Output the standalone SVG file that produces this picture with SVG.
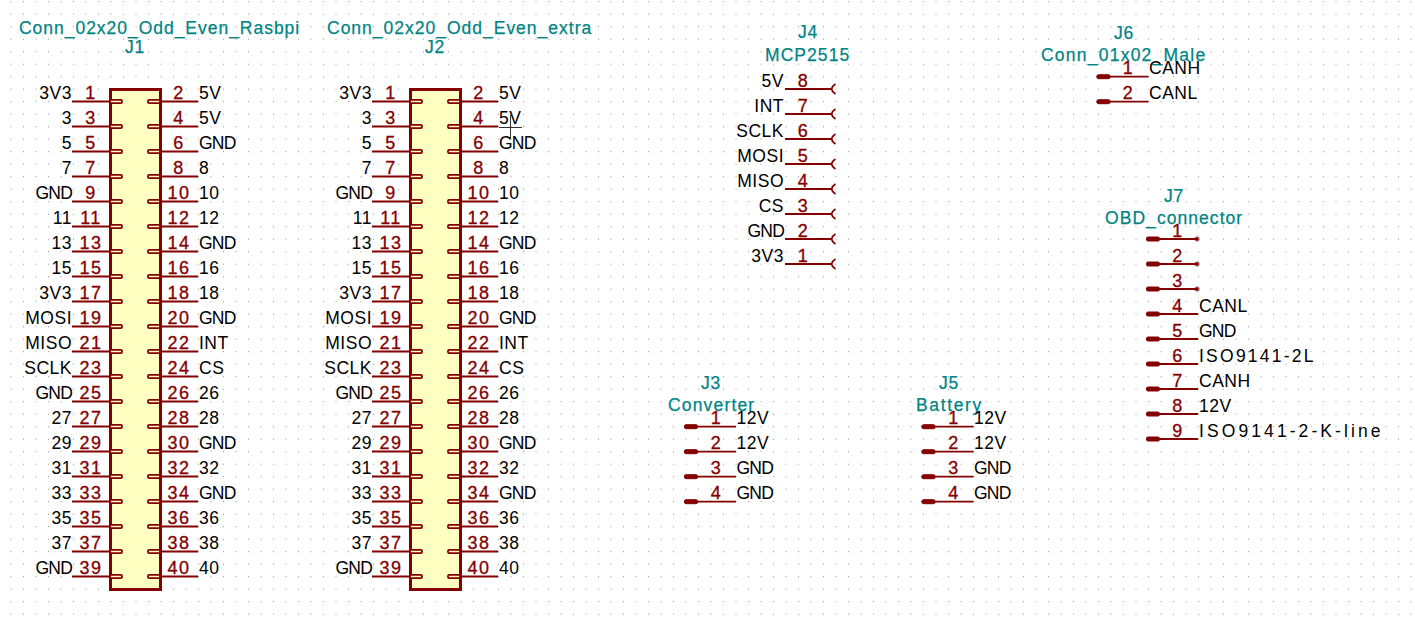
<svg xmlns="http://www.w3.org/2000/svg" xmlns:xlink="http://www.w3.org/1999/xlink" width="1415" height="618" viewBox="0 0 1415 618">
<style>
text{font-family:"Liberation Sans",Arial,sans-serif;font-size:17.5px}
.t{fill:#008484;stroke:#008484;stroke-width:.25;text-anchor:middle;letter-spacing:.8px}
.n{fill:#840000;stroke:#840000;stroke-width:.3;text-anchor:middle;letter-spacing:1.5px;font-size:18px}
.l{fill:#000;text-anchor:end;letter-spacing:.5px}
.r{fill:#000;text-anchor:start;letter-spacing:.5px}
.g{letter-spacing:-.8px}
.body{fill:#ffffc2;stroke:#840000;stroke-width:3}
.pin{stroke:#840000;stroke-width:1.8;fill:none}
.stub{fill:#ffffc2;stroke:#840000;stroke-width:1.8}
.dot{fill:none;stroke:#840000;stroke-width:1}
.solid{fill:#840000;stroke:#840000;stroke-width:1}
</style>
<defs>
<pattern id="grid" patternUnits="userSpaceOnUse" x="10.5" y="1.2" width="12.5" height="12.5"><rect width="1" height="1" fill="#909090"/></pattern>
<g id="pL"><path class="pin" d="M72 0H110"/><rect class="stub" x="110" y="-1.6" width="12" height="3.2" rx="1"/></g>
<g id="pR"><path class="pin" d="M160 0H198"/><rect class="stub" x="148" y="-1.6" width="12" height="3.2" rx="1"/></g>
<g id="pair"><use href="#pL"/><use href="#pR"/></g>
<g id="pMale"><path class="pin" d="M0 0H52"/><rect class="solid" x="0.5" y="-2" width="13" height="4" rx="1.5"/></g>
<g id="pNC"><path class="pin" d="M785 0H832"/><path class="dot" style="stroke-width:1.6" d="M835.500 -5Q828 0 835.500 5"/></g>
<g id="headerBody">
<rect class="body" x="110.500" y="89.500" width="50" height="500"/>
<use href="#pair" y="101.500"/><use href="#pair" y="126.500"/><use href="#pair" y="151.500"/><use href="#pair" y="176.500"/><use href="#pair" y="201.500"/><use href="#pair" y="226.500"/><use href="#pair" y="251.500"/><use href="#pair" y="276.500"/><use href="#pair" y="301.500"/><use href="#pair" y="326.500"/><use href="#pair" y="351.500"/><use href="#pair" y="376.500"/><use href="#pair" y="401.500"/><use href="#pair" y="426.500"/><use href="#pair" y="451.500"/><use href="#pair" y="476.500"/><use href="#pair" y="501.500"/><use href="#pair" y="526.500"/><use href="#pair" y="551.500"/><use href="#pair" y="576.500"/>
</g>
</defs>
<rect width="1415" height="618" fill="#fff"/>
<rect width="1415" height="618" fill="url(#grid)"/>
<g id="connectors"/>
<g id="J1">
<use href="#headerBody"/>
<text class="t" x="159.500" y="34" textLength="281" lengthAdjust="spacing">Conn_02x20_Odd_Even_Rasbpi</text>
<text class="t" x="135" y="53">J1</text>
<text class="n" x="91" y="99">1</text><text class="n" x="179" y="99">2</text><text class="l" x="72" y="99">3V3</text><text class="r" x="199" y="99">5V</text>
<text class="n" x="91" y="124">3</text><text class="n" x="179" y="124">4</text><text class="l" x="72" y="124">3</text><text class="r" x="199" y="124">5V</text>
<text class="n" x="91" y="149">5</text><text class="n" x="179" y="149">6</text><text class="l" x="72" y="149">5</text><text class="r g" x="199" y="149">GND</text>
<text class="n" x="91" y="174">7</text><text class="n" x="179" y="174">8</text><text class="l" x="72" y="174">7</text><text class="r" x="199" y="174">8</text>
<text class="n" x="91" y="199">9</text><text class="n" x="179" y="199">10</text><text class="l g" x="72" y="199">GND</text><text class="r" x="199" y="199">10</text>
<text class="n" x="91" y="224">11</text><text class="n" x="179" y="224">12</text><text class="l" x="72" y="224">11</text><text class="r" x="199" y="224">12</text>
<text class="n" x="91" y="249">13</text><text class="n" x="179" y="249">14</text><text class="l" x="72" y="249">13</text><text class="r g" x="199" y="249">GND</text>
<text class="n" x="91" y="274">15</text><text class="n" x="179" y="274">16</text><text class="l" x="72" y="274">15</text><text class="r" x="199" y="274">16</text>
<text class="n" x="91" y="299">17</text><text class="n" x="179" y="299">18</text><text class="l" x="72" y="299">3V3</text><text class="r" x="199" y="299">18</text>
<text class="n" x="91" y="324">19</text><text class="n" x="179" y="324">20</text><text class="l" x="72" y="324">MOSI</text><text class="r g" x="199" y="324">GND</text>
<text class="n" x="91" y="349">21</text><text class="n" x="179" y="349">22</text><text class="l" x="72" y="349">MISO</text><text class="r" x="199" y="349">INT</text>
<text class="n" x="91" y="374">23</text><text class="n" x="179" y="374">24</text><text class="l" x="72" y="374">SCLK</text><text class="r" x="199" y="374">CS</text>
<text class="n" x="91" y="399">25</text><text class="n" x="179" y="399">26</text><text class="l g" x="72" y="399">GND</text><text class="r" x="199" y="399">26</text>
<text class="n" x="91" y="424">27</text><text class="n" x="179" y="424">28</text><text class="l" x="72" y="424">27</text><text class="r" x="199" y="424">28</text>
<text class="n" x="91" y="449">29</text><text class="n" x="179" y="449">30</text><text class="l" x="72" y="449">29</text><text class="r g" x="199" y="449">GND</text>
<text class="n" x="91" y="474">31</text><text class="n" x="179" y="474">32</text><text class="l" x="72" y="474">31</text><text class="r" x="199" y="474">32</text>
<text class="n" x="91" y="499">33</text><text class="n" x="179" y="499">34</text><text class="l" x="72" y="499">33</text><text class="r g" x="199" y="499">GND</text>
<text class="n" x="91" y="524">35</text><text class="n" x="179" y="524">36</text><text class="l" x="72" y="524">35</text><text class="r" x="199" y="524">36</text>
<text class="n" x="91" y="549">37</text><text class="n" x="179" y="549">38</text><text class="l" x="72" y="549">37</text><text class="r" x="199" y="549">38</text>
<text class="n" x="91" y="574">39</text><text class="n" x="179" y="574">40</text><text class="l g" x="72" y="574">GND</text><text class="r" x="199" y="574">40</text>
</g>
<g id="J2">
<use href="#headerBody" x="300"/>
<text class="t" x="459.500" y="34" textLength="265" lengthAdjust="spacing">Conn_02x20_Odd_Even_extra</text>
<text class="t" x="435" y="53">J2</text>
<text class="n" x="391" y="99">1</text><text class="n" x="479" y="99">2</text><text class="l" x="372" y="99">3V3</text><text class="r" x="499" y="99">5V</text>
<text class="n" x="391" y="124">3</text><text class="n" x="479" y="124">4</text><text class="l" x="372" y="124">3</text><text class="r" x="499" y="124">5V</text>
<text class="n" x="391" y="149">5</text><text class="n" x="479" y="149">6</text><text class="l" x="372" y="149">5</text><text class="r g" x="499" y="149">GND</text>
<text class="n" x="391" y="174">7</text><text class="n" x="479" y="174">8</text><text class="l" x="372" y="174">7</text><text class="r" x="499" y="174">8</text>
<text class="n" x="391" y="199">9</text><text class="n" x="479" y="199">10</text><text class="l g" x="372" y="199">GND</text><text class="r" x="499" y="199">10</text>
<text class="n" x="391" y="224">11</text><text class="n" x="479" y="224">12</text><text class="l" x="372" y="224">11</text><text class="r" x="499" y="224">12</text>
<text class="n" x="391" y="249">13</text><text class="n" x="479" y="249">14</text><text class="l" x="372" y="249">13</text><text class="r g" x="499" y="249">GND</text>
<text class="n" x="391" y="274">15</text><text class="n" x="479" y="274">16</text><text class="l" x="372" y="274">15</text><text class="r" x="499" y="274">16</text>
<text class="n" x="391" y="299">17</text><text class="n" x="479" y="299">18</text><text class="l" x="372" y="299">3V3</text><text class="r" x="499" y="299">18</text>
<text class="n" x="391" y="324">19</text><text class="n" x="479" y="324">20</text><text class="l" x="372" y="324">MOSI</text><text class="r g" x="499" y="324">GND</text>
<text class="n" x="391" y="349">21</text><text class="n" x="479" y="349">22</text><text class="l" x="372" y="349">MISO</text><text class="r" x="499" y="349">INT</text>
<text class="n" x="391" y="374">23</text><text class="n" x="479" y="374">24</text><text class="l" x="372" y="374">SCLK</text><text class="r" x="499" y="374">CS</text>
<text class="n" x="391" y="399">25</text><text class="n" x="479" y="399">26</text><text class="l g" x="372" y="399">GND</text><text class="r" x="499" y="399">26</text>
<text class="n" x="391" y="424">27</text><text class="n" x="479" y="424">28</text><text class="l" x="372" y="424">27</text><text class="r" x="499" y="424">28</text>
<text class="n" x="391" y="449">29</text><text class="n" x="479" y="449">30</text><text class="l" x="372" y="449">29</text><text class="r g" x="499" y="449">GND</text>
<text class="n" x="391" y="474">31</text><text class="n" x="479" y="474">32</text><text class="l" x="372" y="474">31</text><text class="r" x="499" y="474">32</text>
<text class="n" x="391" y="499">33</text><text class="n" x="479" y="499">34</text><text class="l" x="372" y="499">33</text><text class="r g" x="499" y="499">GND</text>
<text class="n" x="391" y="524">35</text><text class="n" x="479" y="524">36</text><text class="l" x="372" y="524">35</text><text class="r" x="499" y="524">36</text>
<text class="n" x="391" y="549">37</text><text class="n" x="479" y="549">38</text><text class="l" x="372" y="549">37</text><text class="r" x="499" y="549">38</text>
<text class="n" x="391" y="574">39</text><text class="n" x="479" y="574">40</text><text class="l g" x="372" y="574">GND</text><text class="r" x="499" y="574">40</text>
</g>
<g id="J4">
<text class="t" x="808" y="38">J4</text>
<text class="t" x="807.500" y="61" textLength="85" lengthAdjust="spacing">MCP2515</text>
<use href="#pNC" y="89"/><use href="#pNC" y="114"/><use href="#pNC" y="139"/><use href="#pNC" y="164"/><use href="#pNC" y="189"/><use href="#pNC" y="214"/><use href="#pNC" y="239"/><use href="#pNC" y="264"/>
<text class="n" x="803.500" y="86.500">8</text><text class="l" x="784" y="86.500">5V</text>
<text class="n" x="803.500" y="111.500">7</text><text class="l" x="784" y="111.500">INT</text>
<text class="n" x="803.500" y="136.500">6</text><text class="l" x="784" y="136.500">SCLK</text>
<text class="n" x="803.500" y="161.500">5</text><text class="l" x="784" y="161.500">MOSI</text>
<text class="n" x="803.500" y="186.500">4</text><text class="l" x="784" y="186.500">MISO</text>
<text class="n" x="803.500" y="211.500">3</text><text class="l" x="784" y="211.500">CS</text>
<text class="n" x="803.500" y="236.500">2</text><text class="l g" x="784" y="236.500">GND</text>
<text class="n" x="803.500" y="261.500">1</text><text class="l" x="784" y="261.500">3V3</text>
</g>
<g id="J6">
<text class="t" x="1124" y="38.500">J6</text>
<text class="t" x="1123.500" y="61" textLength="165" lengthAdjust="spacing">Conn_01x02_Male</text>
<use href="#pMale" x="1096.500" y="76.700"/><use href="#pMale" x="1096.500" y="101.700"/>
<text class="n" x="1128.500" y="74">1</text><text class="r" x="1149" y="74">CANH</text>
<text class="n" x="1128.500" y="99">2</text><text class="r" x="1149" y="99">CANL</text>
</g>
<g id="J7">
<text class="t" x="1174" y="201.500">J7</text>
<text class="t" x="1174" y="223.500" textLength="138" lengthAdjust="spacing">OBD_connector</text>
<use href="#pMale" x="1146" y="239"/><use href="#pMale" x="1146" y="264"/><use href="#pMale" x="1146" y="289"/><use href="#pMale" x="1146" y="314"/><use href="#pMale" x="1146" y="339"/><use href="#pMale" x="1146" y="364"/><use href="#pMale" x="1146" y="389"/><use href="#pMale" x="1146" y="414"/><use href="#pMale" x="1146" y="439"/>
<circle class="dot" cx="1197" cy="239" r="2"/><circle class="dot" cx="1197" cy="264" r="2"/><circle class="dot" cx="1197" cy="289" r="2"/>
<text class="n" x="1178" y="236.500">1</text>
<text class="n" x="1178" y="261.500">2</text>
<text class="n" x="1178" y="286.500">3</text>
<text class="n" x="1178" y="311.500">4</text><text class="r" x="1199" y="311.500">CANL</text>
<text class="n" x="1178" y="336.500">5</text><text class="r g" x="1199" y="336.500">GND</text>
<text class="n" x="1178" y="361.500">6</text><text class="r" x="1199" y="361.500" textLength="115" lengthAdjust="spacing">ISO9141-2L</text>
<text class="n" x="1178" y="386.500">7</text><text class="r" x="1199" y="386.500">CANH</text>
<text class="n" x="1178" y="411.500">8</text><text class="r" x="1199" y="411.500">12V</text>
<text class="n" x="1178" y="436.500">9</text><text class="r" x="1199" y="436.500" textLength="182" lengthAdjust="spacing">ISO9141-2-K-line</text>
</g>
<g id="J3">
<text class="t" x="711" y="388.500">J3</text>
<text class="t" x="711.500" y="411" textLength="87" lengthAdjust="spacing">Converter</text>
<use href="#pMale" x="684" y="426.700"/><use href="#pMale" x="684" y="451.700"/><use href="#pMale" x="684" y="476.700"/><use href="#pMale" x="684" y="501.700"/>
<text class="n" x="716.500" y="424">1</text><text class="r" x="736.500" y="424">12V</text>
<text class="n" x="716.500" y="449">2</text><text class="r" x="736.500" y="449">12V</text>
<text class="n" x="716.500" y="474">3</text><text class="r g" x="736.500" y="474">GND</text>
<text class="n" x="716.500" y="499">4</text><text class="r g" x="736.500" y="499">GND</text>
</g>
<g id="J5">
<text class="t" x="949" y="388.500">J5</text>
<text class="t" x="949" y="411" textLength="66" lengthAdjust="spacing">Battery</text>
<use href="#pMale" x="921.500" y="426.700"/><use href="#pMale" x="921.500" y="451.700"/><use href="#pMale" x="921.500" y="476.700"/><use href="#pMale" x="921.500" y="501.700"/>
<text class="n" x="954" y="424">1</text><text class="r" x="974" y="424">12V</text>
<text class="n" x="954" y="449">2</text><text class="r" x="974" y="449">12V</text>
<text class="n" x="954" y="474">3</text><text class="r g" x="974" y="474">GND</text>
<text class="n" x="954" y="499">4</text><text class="r g" x="974" y="499">GND</text>
</g>
<path d="M510.500 115V139M499 127.500H522" fill="none" stroke="#333" stroke-width="1"/>
</svg>
